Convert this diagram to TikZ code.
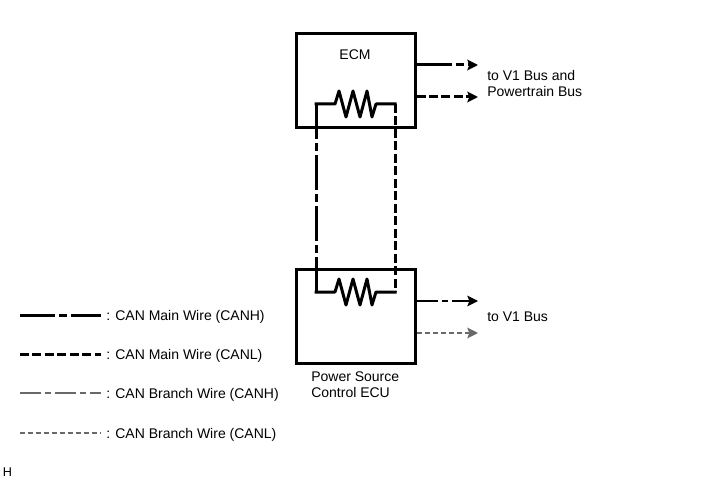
\documentclass[tikz,border=0pt]{standalone}
\usepackage{fontspec}
\setmainfont{Liberation Sans}
\usetikzlibrary{arrows.meta,positioning}
\definecolor{wiregray}{RGB}{105,105,105}
\tikzset{
  ecu/.style={draw, line width=2.25pt, minimum width=89.25pt, minimum height=70.5pt, inner sep=0pt},
  res/.style={line width=2.25pt, line cap=rect, line join=round},
  canH/.style={line width=2.25pt, dash pattern=on 26.25pt off 3pt on 6pt off 3pt},
  canL/.style={line width=2.25pt, dash pattern=on 6.75pt off 2.6pt},
  brH/.style={line width=1.5pt, draw=wiregray, dash pattern=on 15.75pt off 3pt on 4.5pt off 3pt},
  brL/.style={line width=1pt, draw=wiregray, dash pattern=on 3.75pt off 2.25pt},
  tip/.style={-{Stealth[length=8pt,width=8pt,inset=1.5pt]}},
}
\begin{document}
\begin{tikzpicture}[x=0.75pt,y=-0.75pt,font=\fontsize{10.5pt}{12pt}\selectfont]
   		\useasboundingbox (0,0) rectangle (713,481);
   		\node[ecu] (ecm) at (355.5,81)  {}; % ECM box
   		\node[ecu] (psc) at (355.5,316) {}; % power source ECU box
   		\node (ecmlbl) at (355,55) {ECM};
   		\node[anchor=north west, align=left, inner sep=0pt] (psclbl) at (311,371) {Power Source\\Control ECU};
   		% terminating resistors
   		\draw[res] (316,104) coordinate (eL) -- (335,104) -- ++(4,-13) -- ++(7,26) -- ++(7,-26) -- ++(7,26) -- ++(7,-26) -- ++(5,26) -- ++(4,-13) -- (395,104) coordinate (eR);
   		\draw[res] (316,292) coordinate (pL) -- (335,292) -- ++(4,-13) -- ++(7,26) -- ++(7,-26) -- ++(7,26) -- ++(7,-26) -- ++(5,26) -- ++(4,-13) -- (395,292) coordinate (pR);
   		\draw[canH] (eL) -- (pL); % CANH
   		\draw[canL] (eR) -- (pR); % CANL
   		% bus outputs
   		\coordinate (eH) at (478,65);
   		\coordinate (eLo) at (478,97);
   		\coordinate (pH) at (478,301);
   		\coordinate (pLo) at (478,333);
   		\draw[canH,tip] (ecm.east |- eH) -- (eH);
   		\draw[canL,tip] (ecm.east |- eLo) -- (eLo);
   		\draw[brH,draw=black,line width=1.1pt,tip] (psc.east |- pH) -- (pH);
   		\draw[brL,line width=1.5pt,tip] (psc.east |- pLo) -- (pLo);
   		\node[anchor=west, align=left, inner sep=0pt] (busA) at (487,83) {to V1 Bus and\\Powertrain Bus};
   		\node[anchor=west, inner sep=0pt] (busB) at (487,317) {to V1 Bus};
   		% legend
   		\foreach \y/\sty/\txt [count=\i] in {315/canH/Main Wire (CANH), 354/canL/Main Wire (CANL), 393/brH/Branch Wire (CANH), 433/brL/Branch Wire (CANL)} {
   			\draw[\sty] (20,\y) -- (101,\y);
   			\node[anchor=west, inner sep=0pt] (key\i) at (106,\y+2) {: CAN \txt};
   		}
   		\node[font=\fontsize{9.5pt}{11pt}\selectfont, inner sep=0pt] (hmark) at (7.5,472) {H};
\end{tikzpicture}
\end{document}
